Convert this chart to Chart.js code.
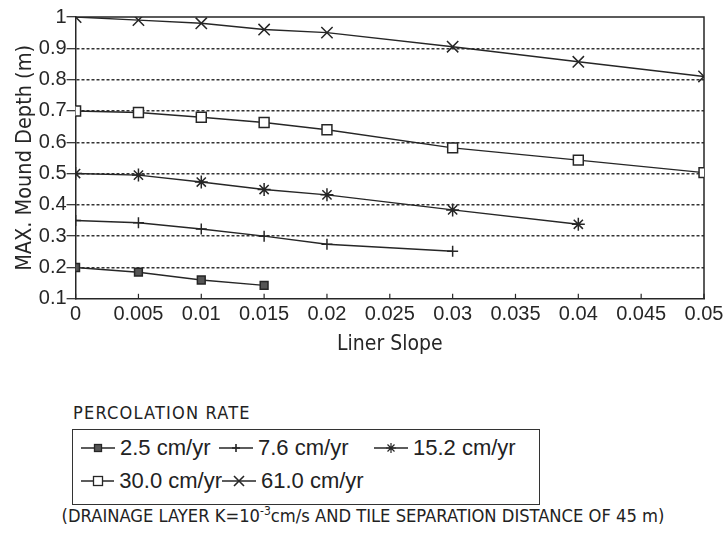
<!DOCTYPE html>
<html>
<head>
<meta charset="utf-8">
<script src="https://cdn.jsdelivr.net/npm/chart.js@4.4.1/dist/chart.umd.min.js"></script>
<style>
  html, body { margin: 0; padding: 0; background: #fff; }
  body { width: 726px; height: 544px; position: relative; overflow: hidden;
         font-family: "Liberation Sans", Arial, sans-serif; color: #222; }
  #wrap { position: absolute; left: 0; top: 0; width: 726px; height: 360px; }
  #legendTitle { position: absolute; left: 73px; top: 402px; font: 18px "DejaVu Sans Condensed", sans-serif; letter-spacing: 1.2px; }
  #legend { position: absolute; left: 72px; top: 429px; width: 466px; height: 74px; border: 1.5px solid #333; }
  .row { position: absolute; left: 8px; height: 30px; display: flex; align-items: center; font-size: 22px; }
  .item { display: flex; align-items: center; white-space: nowrap; }
  .item svg { margin-right: 5px; }
  #note { position: absolute; left: 0; width: 726px; top: 504px; text-align: center;
          font: 18.2px "DejaVu Sans Condensed", sans-serif; }
  #note sup { font-size: 12px; }
</style>
</head>
<body>
<div id="wrap"><canvas id="chart"></canvas></div>
<div id="legendTitle">PERCOLATION RATE</div>
<div id="legend">
  <div class="row" id="row1" style="top:3px"></div>
  <div class="row" id="row2" style="top:36px"></div>
</div>
<div id="note">(DRAINAGE LAYER K=10<sup>-3</sup>cm/s AND TILE SEPARATION DISTANCE OF 45 m)</div>
<script>
// liner slope (x) values
const slopes = [0, 0.005, 0.01, 0.015, 0.02, 0.03, 0.04, 0.05];

// max mound depth (m) for each percolation rate
const rate25 = [0.2, 0.185, 0.16, 0.143];
const rate76 = [0.35, 0.343, 0.323, 0.3, 0.274, 0.252];
const rate152 = [0.5, 0.495, 0.473, 0.449, 0.432, 0.384, 0.338];
const rate300 = [0.7, 0.695, 0.68, 0.663, 0.64, 0.582, 0.543, 0.503];
const rate610 = [1, 0.99, 0.98, 0.96, 0.95, 0.905, 0.857, 0.81];

const seriesLabels = ['2.5 cm/yr', '7.6 cm/yr', '15.2 cm/yr', '30.0 cm/yr', '61.0 cm/yr'];
const seriesValues = [rate25, rate76, rate152, rate300, rate610];

const xTicks = [0, 0.005, 0.01, 0.015, 0.02, 0.025, 0.03, 0.035, 0.04, 0.045, 0.05];
const yTicks = [0.1, 0.2, 0.3, 0.4, 0.5, 0.6, 0.7, 0.8, 0.9, 1];

const ink = '#262626';
const narrow = "'Liberation Sans Narrow', 'DejaVu Sans Condensed', sans-serif";
const markers = [
  { pointStyle: 'rect', radius: 5.5, fill: '#555' },
  { pointStyle: 'cross', radius: 5.5, fill: ink },
  { pointStyle: 'star', radius: 6.5, fill: ink },
  { pointStyle: 'rect', radius: 7, fill: '#fff' },
  { pointStyle: 'crossRot', radius: 8, fill: ink }
];

const datasets = seriesValues.map((vals, i) => ({
  label: seriesLabels[i],
  data: vals.map((v, j) => ({ x: slopes[j], y: v })),
  borderColor: ink,
  borderWidth: 1.4,
  pointStyle: markers[i].pointStyle,
  pointRadius: markers[i].radius,
  pointBackgroundColor: markers[i].fill,
  pointBorderColor: ink,
  pointBorderWidth: 1.5,
  tension: 0
}));

// top/right frame and small inward ticks on the x axis
const frame = {
  id: 'frame',
  beforeDatasetsDraw(chart) {
    const { ctx, chartArea: a, scales: { x } } = chart;
    ctx.save();
    ctx.strokeStyle = ink;
    ctx.lineWidth = 1.5;
    ctx.beginPath();
    ctx.moveTo(a.left, a.top);
    ctx.lineTo(a.right, a.top);
    ctx.lineTo(a.right, a.bottom);
    ctx.stroke();
    ctx.lineWidth = 1.2;
    xTicks.forEach(t => {
      const px = x.getPixelForValue(t);
      ctx.beginPath();
      ctx.moveTo(px, a.bottom);
      ctx.lineTo(px, a.bottom - 5);
      ctx.stroke();
    });
    ctx.restore();
  }
};

new Chart(document.getElementById('chart'), {
  type: 'line',
  data: { datasets },
  options: {
    responsive: true,
    maintainAspectRatio: false,
    animation: false,
    layout: { padding: { top: 17, right: 22, left: 13, bottom: 3 } },
    plugins: { legend: { display: false }, tooltip: { enabled: false } },
    scales: {
      x: {
        type: 'linear',
        min: 0,
        max: 0.05,
        afterBuildTicks: s => { s.ticks = xTicks.map(v => ({ value: v })); },
        ticks: {
          color: ink,
          font: { size: 20, family: 'Liberation Sans' },
          padding: 0,
          maxRotation: 0,
          autoSkip: false,
          callback: v => String(+v.toFixed(3))
        },
        grid: { drawOnChartArea: false, drawTicks: true, tickLength: 4, tickColor: 'rgba(0,0,0,0)' },
        border: { color: ink, width: 1.5 },
        title: {
          display: true,
          text: 'Liner Slope',
          color: ink,
          font: { size: 21, family: narrow, lineHeight: 1.2 },
          padding: { top: 5, bottom: 0 }
        }
      },
      y: {
        min: 0.1,
        max: 1,
        afterBuildTicks: s => { s.ticks = yTicks.map(v => ({ value: v })); },
        ticks: {
          color: ink,
          font: { size: 20, family: 'Liberation Sans' },
          padding: 0,
          callback: v => String(+v.toFixed(2))
        },
        grid: {
          color: c => (c.tick && c.tick.value > 0.15 && c.tick.value < 0.95) ? '#333' : 'rgba(0,0,0,0)',
          lineWidth: 1.4,
          tickLength: 9,
          tickColor: ink,
          tickWidth: 1.2
        },
        border: { color: ink, width: 1.5, dash: [3, 2] },
        title: {
          display: true,
          text: 'MAX. Mound Depth (m)',
          color: ink,
          font: { size: 21.5, family: narrow, lineHeight: 1.2 },
          padding: { top: 0, bottom: 0 }
        }
      }
    }
  },
  plugins: [frame]
});

// legend built from the same series
function markerSvg(i) {
  const m = markers[i];
  let mk = '';
  const cx = 17, cy = 8;
  if (m.pointStyle === 'rect') {
    const s = i === 3 ? 4.5 : 3.5;
    mk = `<rect x="${cx - s}" y="${cy - s}" width="${2 * s}" height="${2 * s}" fill="${m.fill}" stroke="${ink}" stroke-width="1.3"/>`;
  } else if (m.pointStyle === 'cross') {
    mk = `<path d="M${cx - 4} ${cy}H${cx + 4}M${cx} ${cy - 4}V${cy + 4}" stroke="${ink}" stroke-width="1.6"/>`;
  } else if (m.pointStyle === 'star') {
    mk = `<path d="M${cx - 5} ${cy}H${cx + 5}M${cx} ${cy - 5}V${cy + 5}M${cx - 3.5} ${cy - 3.5}L${cx + 3.5} ${cy + 3.5}M${cx - 3.5} ${cy + 3.5}L${cx + 3.5} ${cy - 3.5}" stroke="${ink}" stroke-width="1.2"/>`;
  } else {
    mk = `<path d="M${cx - 5} ${cy - 5}L${cx + 5} ${cy + 5}M${cx - 5} ${cy + 5}L${cx + 5} ${cy - 5}" stroke="${ink}" stroke-width="1.6"/>`;
  }
  return `<svg width="34" height="16"><line x1="0" y1="${cy}" x2="34" y2="${cy}" stroke="${ink}" stroke-width="1.4"/>${mk}</svg>`;
}

const colWidths = [[138, 155, 0], [141, 0]];
const rows = [[0, 1, 2], [3, 4]];
rows.forEach((r, ri) => {
  const el = document.getElementById('row' + (ri + 1));
  r.forEach((si, k) => {
    const w = colWidths[ri][k];
    const div = document.createElement('div');
    div.className = 'item';
    if (w) div.style.width = w + 'px';
    div.innerHTML = markerSvg(si) + '<span>' + seriesLabels[si] + '</span>';
    el.appendChild(div);
  });
});
</script>
</body>
</html>
